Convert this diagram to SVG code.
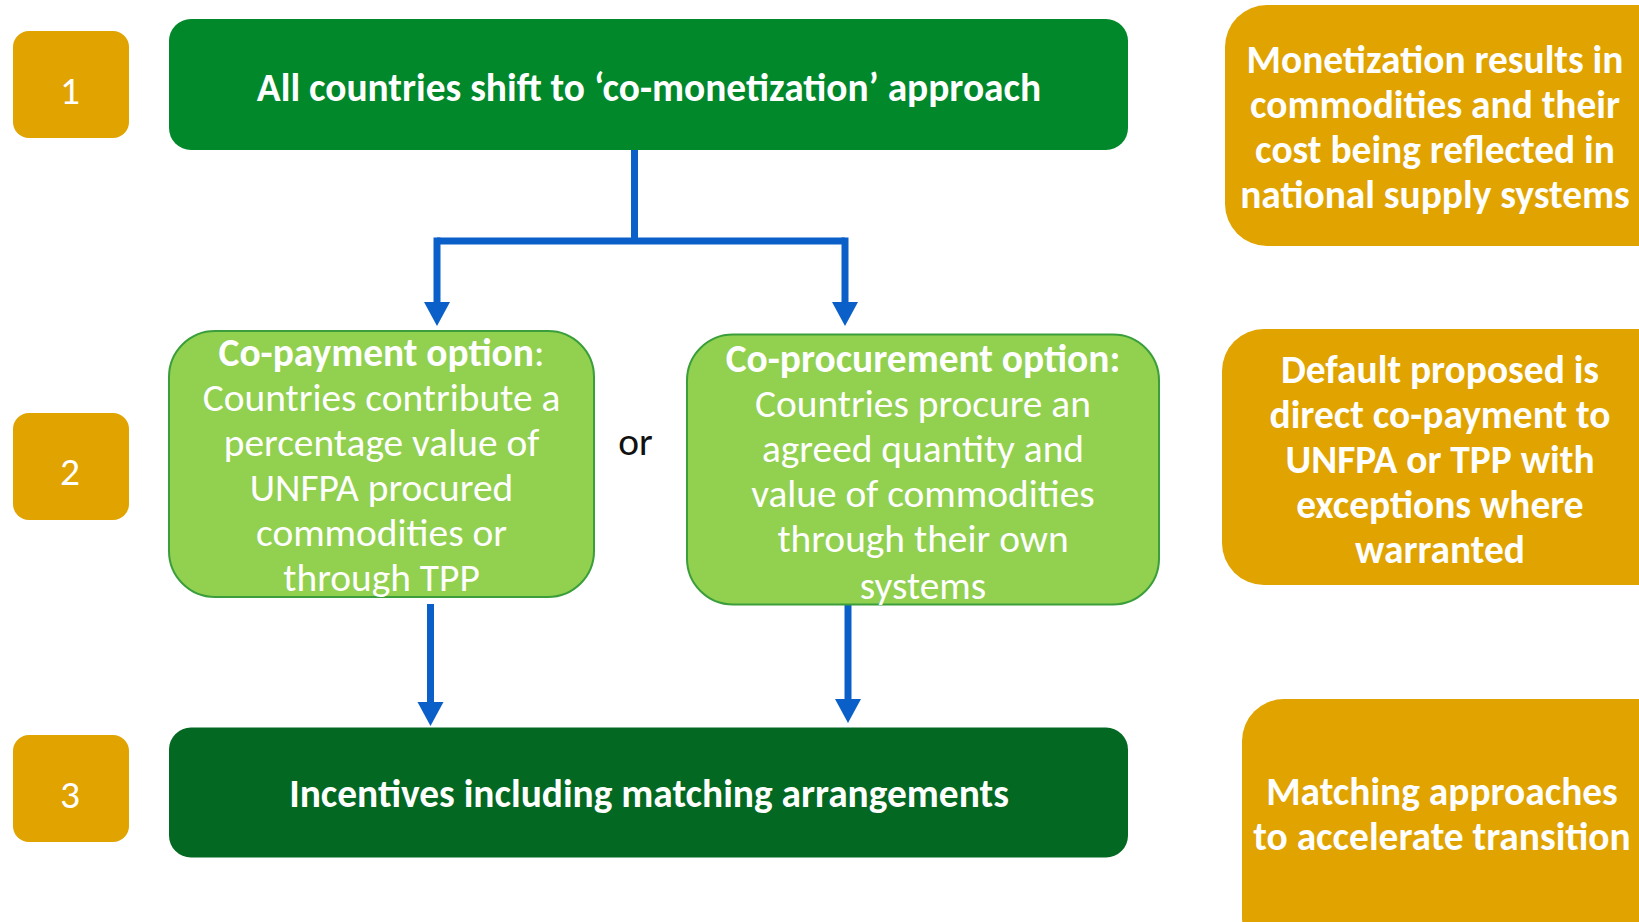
<svg xmlns="http://www.w3.org/2000/svg" width="1639" height="922" viewBox="0 0 1639 922">
<style>
text{font-family:Carlito,Lato,"Open Sans",sans-serif;font-size:39.4px;fill:#ffffff;text-anchor:middle}
.b{font-weight:bold}
.num{fill:#E0A300}
.orange{fill:#E0A300}
.dark{fill:#00882B}
.darker{fill:#036821}
.light{fill:#92D050;stroke:#3A9E3A;stroke-width:2}
.conn{fill:none;stroke:#0A60C8;stroke-width:7}
.head{fill:#0A60C8}
.blk{fill:#111111}
</style>
<rect width="1639" height="922" fill="#ffffff"/>

<g id="num1"><rect class="num" x="13" y="31" width="116" height="107" rx="16"/><text x="70" y="104">1</text></g>
<g id="num2"><rect class="num" x="13" y="413" width="116" height="107" rx="16"/><text x="70" y="485">2</text></g>
<g id="num3"><rect class="num" x="13" y="735" width="116" height="107" rx="16"/><text x="70" y="808">3</text></g>

<g id="connectors">
<path class="conn" d="M634.5,149 V241"/>
<path class="conn" d="M437,241 H845"/>
<path class="conn" d="M437,237.5 V304"/>
<polygon class="head" points="424,302 450,302 437,326"/>
<path class="conn" d="M845,237.5 V304"/>
<polygon class="head" points="832,302 858,302 845,326"/>
<path class="conn" d="M430.5,604 V704"/>
<polygon class="head" points="417.5,702 443.5,702 430.5,726"/>
<path class="conn" d="M848,598 V701"/>
<polygon class="head" points="835,699 861,699 848,723"/>
</g>

<g id="top"><rect class="dark" x="169" y="19" width="959" height="131" rx="22"/>
<text class="b" x="649" y="101">All countries shift to ‘co-monetization’ approach</text></g>

<g id="copay"><rect class="light" x="169" y="331" width="425" height="266" rx="46"/>
<text x="381.5" y="366"><tspan class="b">Co-payment option</tspan>:</text>
<text x="381.5" y="411">Countries contribute a</text>
<text x="381.5" y="456">percentage value of</text>
<text x="381.5" y="501">UNFPA procured</text>
<text x="381.5" y="546">commodities or</text>
<text x="381.5" y="591">through TPP</text></g>

<text class="blk" x="635.5" y="455">or</text>

<g id="coproc"><rect class="light" x="687" y="334.5" width="472" height="270" rx="46"/>
<text class="b" x="923" y="372">Co-procurement option:</text>
<text x="923" y="417">Countries procure an</text>
<text x="923" y="462">agreed quantity and</text>
<text x="923" y="507">value of commodities</text>
<text x="923" y="552">through their own</text>
<text x="923" y="599">systems</text></g>

<g id="bottom"><rect class="darker" x="169" y="727.5" width="959" height="130" rx="22"/>
<text class="b" x="649" y="807">Incentives including matching arrangements</text></g>

<g id="note1"><rect class="orange" x="1225" y="5" width="460" height="241" rx="42"/>
<text class="b" x="1435" y="73">Monetization results in</text>
<text class="b" x="1435" y="118">commodities and their</text>
<text class="b" x="1435" y="163">cost being reflected in</text>
<text class="b" x="1435" y="208">national supply systems</text></g>

<g id="note2"><rect class="orange" x="1222" y="329" width="460" height="256" rx="42"/>
<text class="b" x="1440" y="383">Default proposed is</text>
<text class="b" x="1440" y="428">direct co-payment to</text>
<text class="b" x="1440" y="473">UNFPA or TPP with</text>
<text class="b" x="1440" y="518">exceptions where</text>
<text class="b" x="1440" y="563">warranted</text></g>

<g id="note3"><rect class="orange" x="1242" y="699" width="460" height="260" rx="42"/>
<text class="b" x="1442" y="805">Matching approaches</text>
<text class="b" x="1442" y="850">to accelerate transition</text></g>
</svg>
